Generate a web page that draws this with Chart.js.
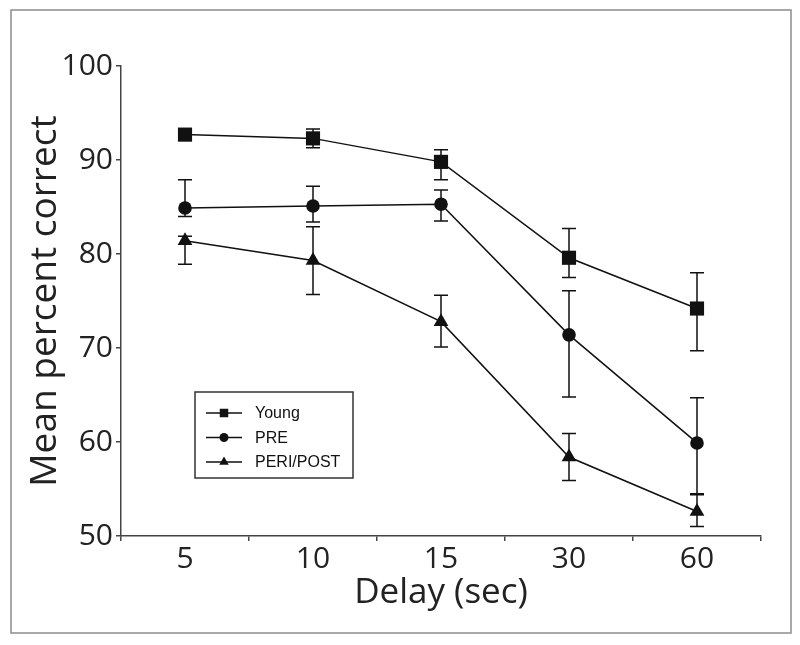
<!DOCTYPE html>
<html>
<head>
<meta charset="utf-8">
<script src="https://cdn.jsdelivr.net/npm/chart.js@4.4.0/dist/chart.umd.min.js"></script>
<style>
  html, body { margin: 0; padding: 0; background: #fff; }
  #wrap { width: 800px; height: 645px; position: relative; }
</style>
</head>
<body>
<div id="wrap"><canvas id="chart" width="800" height="645"></canvas></div>
<script>
// delay categories (sec)
const delays = ['5', '10', '15', '30', '60']

// group means
const young = [92.7, 92.3, 89.8, 79.6, 74.2]
const pre = [84.9, 85.1, 85.3, 71.4, 59.9]
const periPost = [81.4, 79.3, 72.8, 58.4, 52.6]

// error bar ends (low / high)
const youngLow = [92.2, 91.3, 87.9, 77.5, 69.7]
const youngHigh = [93.2, 93.3, 91.1, 82.7, 78.0]
const preLow = [84.0, 83.4, 83.5, 64.8, 54.4]
const preHigh = [87.9, 87.2, 86.8, 76.1, 64.7]
const periLow = [78.9, 75.7, 70.1, 55.9, 51.0]
const periHigh = [81.9, 82.9, 75.6, 60.9, 54.5]

const yTicks = [50, 60, 70, 80, 90, 100]

const ink = '#111'

// white page with grey frame
const framePlugin = {
	id: 'frame',
	beforeDraw (chart) {
		const ctx = chart.ctx
		ctx.save()
		ctx.fillStyle = '#fff'
		ctx.fillRect(0, 0, chart.width, chart.height)
		ctx.strokeStyle = '#8c8c8c'
		ctx.lineWidth = 1.5
		ctx.strokeRect(11, 10, 780, 623)
		ctx.restore()
	}
}

// vertical error bars with caps
const errorBarPlugin = {
	id: 'errorBars',
	beforeDatasetsDraw (chart) {
		const ctx = chart.ctx
		const yScale = chart.scales.y
		ctx.save()
		ctx.strokeStyle = ink
		ctx.lineWidth = 1.5
		chart.data.datasets.forEach(function(ds, i) {
			const meta = chart.getDatasetMeta(i)
			meta.data.forEach(function(pt, j) {
				const yLo = yScale.getPixelForValue(ds.errLow[j])
				const yHi = yScale.getPixelForValue(ds.errHigh[j])
				const x = pt.x
				ctx.beginPath()
				ctx.moveTo(x, yLo)
				ctx.lineTo(x, yHi)
				ctx.moveTo(x - 7, yLo)
				ctx.lineTo(x + 7, yLo)
				ctx.moveTo(x - 7, yHi)
				ctx.lineTo(x + 7, yHi)
				ctx.stroke()
			})
		})
		ctx.restore()
	}
}

// boxed legend inside the plot
const boxLegendPlugin = {
	id: 'boxLegend',
	afterDraw (chart) {
		const ctx = chart.ctx
		const box = { x: 195, y: 392, w: 158, h: 86 }
		ctx.save()
		ctx.strokeStyle = '#333'
		ctx.lineWidth = 1.5
		ctx.strokeRect(box.x, box.y, box.w, box.h)
		ctx.font = '16px "Liberation Sans", Arial, sans-serif'
		ctx.textBaseline = 'middle'
		ctx.fillStyle = ink
		chart.data.datasets.forEach(function(ds, i) {
			const y = 413 + i * 24.5
			ctx.beginPath()
			ctx.moveTo(206, y)
			ctx.lineTo(242, y)
			ctx.lineWidth = 1.5
			ctx.strokeStyle = ink
			ctx.stroke()
			Chart.helpers.drawPoint(ctx, {
				pointStyle: ds.pointStyle,
				radius: ds.legendRadius,
				borderWidth: 0
			}, 224, y)
			ctx.fillText(ds.label, 255, y + 1)
		})
		ctx.restore()
	}
}

const axisFont = { family: '"Open Sans", sans-serif', size: 30 }

function series (label, values, low, high, style, radius, legendRadius) {
	return {
		label: label,
		data: values,
		errLow: low,
		errHigh: high,
		borderColor: ink,
		backgroundColor: ink,
		borderWidth: 1.5,
		pointStyle: style,
		pointRadius: radius,
		pointHoverRadius: radius,
		pointBorderWidth: 0,
		pointBackgroundColor: ink,
		legendRadius: legendRadius,
		tension: 0,
		fill: false
	}
}

new Chart(document.getElementById('chart'), {
	type: 'line',
	data: {
		labels: delays,
		datasets: [
			series('Young', young, youngLow, youngHigh, 'rect', 10, 6),
			series('PRE', pre, preLow, preHigh, 'circle', 6.8, 4.5),
			series('PERI/POST', periPost, periLow, periHigh, 'triangle', 8.5, 5.5)
		]
	},
	options: {
		responsive: false,
		animation: false,
		events: [],
		layout: { padding: { left: 0, top: 66, right: 39, bottom: 0 } },
		plugins: {
			legend: { display: false },
			tooltip: { enabled: false }
		},
		scales: {
			x: {
				type: 'category',
				offset: true,
				grid: { offset: true, drawOnChartArea: false, tickLength: 5, tickColor: '#444', lineWidth: 1.5 },
				border: { color: '#444', width: 1.5 },
				ticks: { font: axisFont, color: '#222', padding: 0, maxRotation: 0 },
				title: { display: true, text: 'Delay (sec)', font: { family: '"Open Sans", sans-serif', size: 35 }, color: '#222', padding: { top: 0, bottom: 31 } },
				afterFit (scale) { scale.height = 109 }
			},
			y: {
				min: 50,
				max: 100,
				afterBuildTicks (scale) { scale.ticks = yTicks.map(v => ({ value: v })) },
				grid: { drawOnChartArea: false, tickLength: 5, tickColor: '#444', lineWidth: 1.5 },
				border: { color: '#444', width: 1.5 },
				ticks: { font: axisFont, color: '#222', padding: 3 },
				title: { display: true, text: 'Mean percent correct', font: { family: '"Open Sans", sans-serif', size: 37 }, color: '#222', padding: { top: 23, bottom: 0 } },
				afterFit (scale) { scale.width = 121 }
			}
		}
	},
	plugins: [framePlugin, errorBarPlugin, boxLegendPlugin]
})
</script>
</body>
</html>
